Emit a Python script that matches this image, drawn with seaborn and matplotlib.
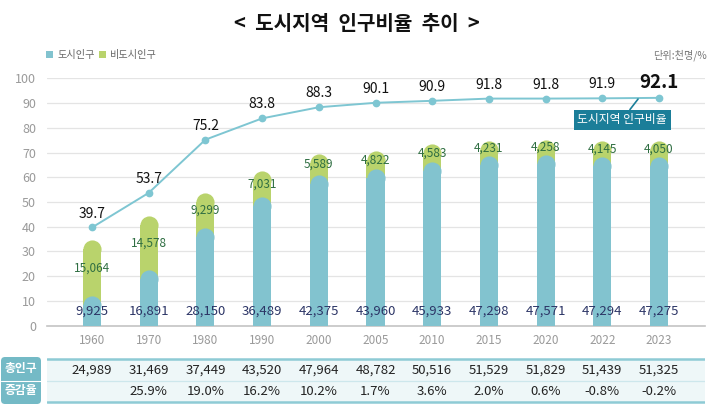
import numpy as np
import pandas as pd
import matplotlib
matplotlib.use('Agg')
import matplotlib.pyplot as plt
import seaborn as sns
from matplotlib.patches import FancyBboxPatch, Rectangle

# ---------------- data ----------------
years = ['1960', '1970', '1980', '1990', '2000', '2005', '2010', '2015', '2020', '2022', '2023']
urban = [9925, 16891, 28150, 36489, 42375, 43960, 45933, 47298, 47571, 47294, 47275]
nonurban = [15064, 14578, 9299, 7031, 5589, 4822, 4583, 4231, 4258, 4145, 4050]
urban_ratio = [39.7, 53.7, 75.2, 83.8, 88.3, 90.1, 90.9, 91.8, 91.8, 91.9, 92.1]
total_pop = [24989, 31469, 37449, 43520, 47964, 48782, 50516, 51529, 51829, 51439, 51325]
growth = ['', '25.9%', '19.0%', '16.2%', '10.2%', '1.7%', '3.6%', '2.0%', '0.6%', '-0.8%', '-0.2%']
series_names = ['도시인구', '비도시인구']
row_headers = ['총인구', '증감율']
title = '<  도시지역  인구비율  추이  >'
unit_label = '단위:천명/%'
callout = '도시지역 인구비율'
yticks = list(range(0, 101, 10))

# ---------------- style ----------------
C_URBAN = '#82c3cf'
C_NON = '#b9d36c'
C_LINE = '#7ec6d2'
C_BOX = '#1b7e99'
C_HEAD = '#74bac6'
GRAY = '#9a9a9a'

sns.set_style('white')
plt.rcParams['font.family'] = ['Noto Sans CJK KR', 'DejaVu Sans']

W, H = 710, 415
fig = plt.figure(figsize=(W / 100, H / 100), dpi=100)


def rect(l, t, r, b):
    return [l / W, 1 - b / H, (r - l) / W, (b - t) / H]


XLIM = (-0.794, 10.811)
BAR_YLIM = (2000, 68200)
BAR_W = 0.32

ax = fig.add_axes(rect(47, 78.3, 705, 325.7))
ax_bar = ax.twinx()
ax_line = ax.twinx()

df = pd.DataFrame({'year': years, 'urban': urban, 'nonurban': nonurban, 'ratio': urban_ratio})
df['total'] = df['urban'] + df['nonurban']

# geometry for rounded caps
px_per_x = ax.bbox.width / (XLIM[1] - XLIM[0])
px_per_y = ax.bbox.height / (BAR_YLIM[1] - BAR_YLIM[0])
r_px = BAR_W * px_per_x / 2
cap_r = r_px / px_per_y
df['green_draw'] = df['total'] - cap_r
df['blue_draw'] = df['urban'] - cap_r
cap_size = (2 * r_px * 72 / fig.dpi) ** 2

# ---- bars (stacked, rounded top) ----
sns.barplot(data=df, x='year', y='green_draw', color=C_NON, saturation=1,
            width=BAR_W, errorbar=None, ax=ax_bar, linewidth=0)
green_patches = list(ax_bar.patches)
for p in green_patches:
    p.set_zorder(2)
ax_bar.scatter([p.get_x() + p.get_width() / 2 for p in green_patches],
               [p.get_height() for p in green_patches],
               s=cap_size, color=C_NON, linewidths=0, zorder=2.5)

sns.barplot(data=df, x='year', y='blue_draw', color=C_URBAN, saturation=1,
            width=BAR_W, errorbar=None, ax=ax_bar, linewidth=0)
blue_patches = [p for p in ax_bar.patches if p not in green_patches]
for p in blue_patches:
    p.set_zorder(3)
ax_bar.scatter([p.get_x() + p.get_width() / 2 for p in blue_patches],
               [p.get_height() for p in blue_patches],
               s=cap_size, color=C_URBAN, linewidths=0, zorder=3.5)
ax_bar.set_ylim(*BAR_YLIM)

# non-urban labels
for i, (u, t, nu) in enumerate(zip(df['urban'], df['total'], nonurban)):
    ax_bar.text(i, (u + t) / 2, f'{nu:,}', ha='center', va='center',
                fontsize=8.5, color='#2f6e42', zorder=6)

# ---- line ----
sns.pointplot(data=df, x='year', y='ratio', ax=ax_line, color=C_LINE,
              markers='o', markersize=4.5, linewidth=1.4, errorbar=None)
ax_line.set_ylim(0, 100)
n = len(years)
for i, v in enumerate(urban_ratio):
    last = i == n - 1
    ax_line.annotate(f'{v}', (i, v), xytext=(0, 11 if last else 10),
                     textcoords='offset points', ha='center', va='center',
                     fontsize=13.5 if last else 10,
                     fontweight='bold' if last else 'normal', color='#111111')
# urban labels
for i, u in enumerate(urban):
    ax_line.text(i, 5.9, f'{u:,}', ha='center', va='center', fontsize=9.5,
                 color='#2c3566', zorder=6)

# callout
ax_line.annotate(callout, xy=(9.63, 91.6), xytext=(9.35, 83.3),
                 ha='center', va='center', fontsize=8.5, color='white',
                 bbox=dict(boxstyle='square,pad=0.3', fc=C_BOX, ec='none'),
                 arrowprops=dict(arrowstyle='-', color=C_BOX, lw=1.2,
                                 shrinkA=0, shrinkB=0))

# ---- main axis styling ----
ax.set_ylim(0, 100)
ax.set_yticks(yticks)
ax.grid(axis='y', color='#e4e4e4', linewidth=0.9)
ax.grid(axis='x', visible=False)
ax.set_axisbelow(True)
for s in ['top', 'right', 'left']:
    ax.spines[s].set_visible(False)
ax.spines['bottom'].set_color('#c4c4c4')
ax.spines['bottom'].set_linewidth(1.2)
ax.tick_params(axis='y', length=0, pad=8, labelsize=9, labelcolor=GRAY)
ax.tick_params(axis='x', length=0, pad=6, labelsize=8.5, labelcolor=GRAY)

for a in (ax_bar, ax_line):
    a.set_yticks([])
    a.set_ylabel('')
    a.set_xlabel('')
    for s in a.spines.values():
        s.set_visible(False)
    a.patch.set_visible(False)
    a.grid(False)

ax.set_xticks(range(n))
ax.set_xticklabels(years)
ax.set_xlabel('')
ax.set_ylabel('')
ax.set_xlim(*XLIM)

# ---- title / legend / unit ----
fig.text(357 / W, 1 - 24 / H, title, ha='center', va='center', fontsize=14.5,
         fontweight='bold', color='#111111')
fig.add_artist(Rectangle((46 / W, 1 - 58.5 / H), 7 / W, 7 / H, transform=fig.transFigure,
                         color=C_URBAN, lw=0))
fig.text(57 / W, 1 - 55 / H, series_names[0], ha='left', va='center', fontsize=7.3, color='#666666')
fig.add_artist(Rectangle((99 / W, 1 - 58.5 / H), 7 / W, 7 / H, transform=fig.transFigure,
                         color=C_NON, lw=0))
fig.text(110 / W, 1 - 55 / H, series_names[1], ha='left', va='center', fontsize=7.3, color='#666666')
fig.text(707 / W, 1 - 55 / H, unit_label, ha='right', va='center', fontsize=7.3, color='#777777')

# ---- table ----
ax_tab = fig.add_axes(rect(47, 355, 705, 405))
ax_tab.set_xlim(*XLIM)
ax_tab.set_ylim(405, 355)
ax_tab.axis('off')
ax_tab.axhspan(359, 402, color='#eef7f8', lw=0)
ax_tab.axhline(359, color='#8ecbd5', lw=1.8)
ax_tab.axhline(380.5, color='#cde7ec', lw=0.9)
ax_tab.axhline(402, color='#8ecbd5', lw=1.8)
for i in range(n):
    ax_tab.text(i, 370, f'{total_pop[i]:,}', ha='center', va='center', fontsize=9.5, color='#222222')
    ax_tab.text(i, 391, growth[i], ha='center', va='center', fontsize=9.5, color='#222222')

ax_head = fig.add_axes(rect(1, 357, 41, 404))
ax_head.axis('off')
ax_head.set_xlim(0, 1)
ax_head.set_ylim(0, 1)
ax_head.add_patch(FancyBboxPatch((0, 0), 1, 1, boxstyle='round,pad=0,rounding_size=0.1',
                                 mutation_aspect=40 / 47, fc=C_HEAD, ec='none',
                                 transform=ax_head.transAxes))
ax_head.axhline(0.5, color='white', lw=0.8)
ax_head.text(0.5, 0.745, row_headers[0], ha='center', va='center', fontsize=8.5,
             fontweight='bold', color='white')
ax_head.text(0.5, 0.277, row_headers[1], ha='center', va='center', fontsize=8.5,
             fontweight='bold', color='white')

fig.savefig('out.png', dpi=100)
